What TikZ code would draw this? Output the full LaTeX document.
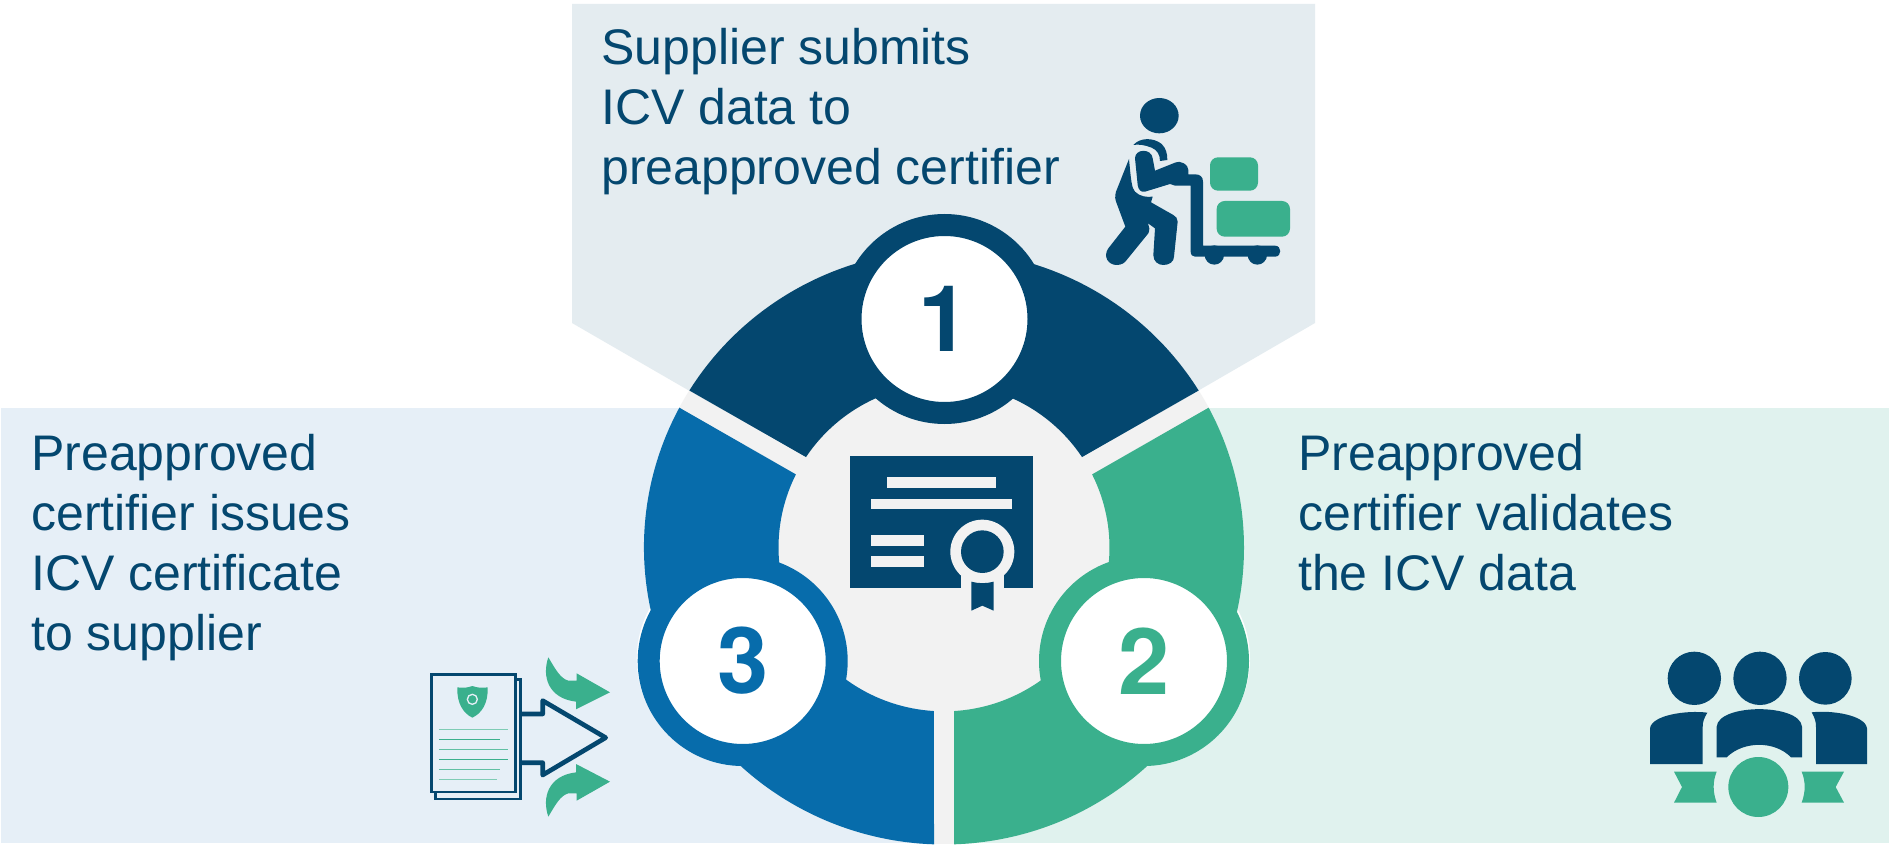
\documentclass[tikz,border=0pt]{standalone}
\usepackage{fontspec}
\setmainfont{Liberation Sans}
\newfontfamily\digitfont{TeX Gyre Heros}
\usetikzlibrary{positioning}
\definecolor{navy}{HTML}{04476F}
\definecolor{bluec}{HTML}{076CAB}
\definecolor{greenc}{HTML}{3AB08D}
\definecolor{grayc}{HTML}{F2F2F2}
\definecolor{paneltop}{HTML}{E4ECF0}
\definecolor{panelleft}{HTML}{E6EFF7}
\definecolor{panelright}{HTML}{E0F2EE}
\begin{document}
\begin{tikzpicture}[
    x=0.75pt,y=-0.75pt,
    caption/.style={anchor=north west,align=left,inner sep=0pt,text=navy,font=\fontsize{37.5}{45}\selectfont},
    stepnode/.style={circle,fill=white,line width=16.5pt,minimum size=141pt,inner sep=0pt,outer sep=0pt,font=\digitfont\fontsize{69}{69}\bfseries\selectfont},
    icon/.style={shift={#1},scale=1/3}]
    \clip (0,0) rectangle (1889,845);
    \fill[white] (0,0) rectangle (1889,845);

    \fill[paneltop] (572,4) -- (1315,4) -- (1315,323) -- (944,538) -- (572,323) -- cycle;
    \fill[panelleft] (1,408) rectangle (944,843);
    \fill[panelright] (944,408) rectangle (1889,843);
    \fill[white] (1145,659) circle (105);
    \fill[white] (741.7,659) circle (105);

    \begin{scope}
    \clip (0,0) rectangle (1889,843);
    \fill[grayc] (944,547.5) ellipse (300 and 297);
    \end{scope}
    \begin{scope}[shift={(944,547.5)},yscale=-0.99]
    \fill[navy] (31.91:300) arc[start angle=31.91,end angle=148.09,radius=300] -- (146.5:165.5) arc[start angle=146.5,end angle=33.5,radius=165.5] -- cycle;
    \fill[bluec] (151.91:300) arc[start angle=151.91,end angle=268.09,radius=300] -- (266.5:165.5) arc[start angle=266.5,end angle=153.5,radius=165.5] -- cycle;
    \fill[greenc] (271.91:300) arc[start angle=271.91,end angle=388.09,radius=300] -- (386.5:165.5) arc[start angle=386.5,end angle=273.5,radius=165.5] -- cycle;
    \end{scope}

    \node[stepnode,draw=navy,text=navy] (N1) at (944.5,319) {1};
    \node[stepnode,draw=greenc,text=greenc] (N2) at (1144,661) {2};
    \node[stepnode,draw=bluec,text=bluec] (N3) at (742.7,661) {3};

    \node[caption] (T1) at (601,28.5) {Supplier submits\\ICV data to\\preapproved certifier};
    \node[caption] (T2) at (1298,433.5) {Preapproved\\certifier validates\\the ICV data};
    \node[caption] (T3) at (31,433.5) {Preapproved\\certifier issues\\ICV certificate\\to supplier};

    \begin{scope}[icon={(830,440)}]
    \fill[navy] (60,48) rectangle (609,445);
    \fill[grayc] (172,112) rectangle (497,144);
    \fill[grayc] (124,176) rectangle (545,208);
    \fill[grayc] (124,285) rectangle (281,317);
    \fill[grayc] (124,349) rectangle (281,381);
    \fill[grayc] (392,380) rectangle (523,446);
    \fill[grayc] (457,335) circle (96);
    \fill[navy] (457,335) circle (64);
    \fill[navy] (424,425) .. controls (445,431) and (470,431) .. (491,425) -- (491,512) -- (457,497) -- (424,512) -- cycle;
    \end{scope}

    \begin{scope}[icon={(1080,80)}]
    \fill[navy] (238,107) ellipse (58 and 53);
    \fill[navy] (147,237) -- (108,335) .. controls (104,350) and (105,358) .. (110,370) -- (136,440) -- (85,505) .. controls (68,530) and (85,555) .. (110,555) .. controls (125,555) and (135,548) .. (140,540) -- (205,460) .. controls (210,450) and (208,440) .. (204,430) -- (225,445) -- (220,525) .. controls (220,545) and (235,555) .. (250,555) .. controls (268,555) and (282,545) .. (282,530) -- (293,425) .. controls (293,415) and (288,410) .. (280,405) -- (213,367) -- (218,350) .. controls (200,352) and (180,350) .. (165,335) .. controls (155,325) and (153,300) .. cycle;
    \fill[navy] (165,235) .. controls (165,205) and (215,205) .. (218,235) -- (225,272) -- (285,248) .. controls (305,240) and (325,255) .. (325,270) -- (325,283) -- (345,283) .. controls (360,283) and (369,290) .. (369,305) -- (369,497) -- (585,497) .. controls (606,497) and (606,530) .. (585,530) -- (345,530) .. controls (338,530) and (332,525) .. (332,515) -- (332,317) -- (285,317) .. controls (278,317) and (275,313) .. (270,312) -- (195,335) .. controls (182,338) and (175,328) .. (173,315) -- cycle;
    \fill[navy] (403,525) circle (29);
    \fill[navy] (532,525) circle (29);
    \fill[navy] (160,195) .. controls (180,172) and (220,172) .. (245,192) .. controls (258,205) and (262,220) .. (262,240) -- (240,243) .. controls (240,225) and (232,210) .. (215,203) .. controls (195,195) and (175,192) .. cycle;
    \fill[greenc,rounded corners=6pt] (390,232) rectangle (534,332);
    \fill[greenc,rounded corners=6pt] (410,363) rectangle (630,470);
    \end{scope}

    \begin{scope}[icon={(410,640)}]
    \draw[navy,line width=2pt] (320,118) -- (332,118) -- (332,477) -- (77,477) -- (77,460);
    \draw[navy,line width=2pt] (64,103) rectangle (316,456);
    \fill[greenc] (142,142) .. controls (165,145) and (175,142) .. (187,138) .. controls (200,142) and (210,145) .. (233,142) .. controls (235,190) and (215,220) .. (187,233) .. controls (160,220) and (140,190) .. cycle;
    \draw[panelleft,line width=1pt] (187,178) circle (15);
    \draw[greenc!65,line width=0.8pt] (87,268) -- (294,268);
    \draw[greenc,line width=0.8pt] (87,298) -- (270,298);
    \draw[greenc!80,line width=0.8pt] (87,328) -- (294,328);
    \draw[greenc,line width=0.8pt] (87,358) -- (294,358);
    \draw[greenc!80,line width=0.8pt] (87,388) -- (270,388);
    \draw[greenc!65,line width=0.8pt] (87,418) -- (261,418);
    \draw[navy,line width=3.5pt,line join=round] (335,222) -- (398,222) -- (398,182) -- (587,293) -- (398,405) -- (398,368) -- (335,368);
    \fill[greenc] (415,52) .. controls (395,110) and (415,175) .. (498,185) -- (498,208) -- (600,157) -- (500,100) -- (500,122) -- (475,122) .. controls (450,115) and (435,85) .. cycle;
    \fill[greenc] (415,530) .. controls (395,472) and (415,407) .. (498,397) -- (498,372) -- (600,425) -- (500,482) -- (500,460) -- (475,460) .. controls (450,467) and (435,497) .. cycle;
    \end{scope}

    \begin{scope}[icon={(1630,640)}]
    \fill[navy] (193,115) circle (80);
    \fill[navy] (390,115) circle (80);
    \fill[navy] (586,115) circle (79);
    \fill[navy] (60,372) -- (60,265) .. controls (65,225) and (170,210) .. (232,218) .. controls (222,235) and (218,245) .. (218,262) -- (218,372) -- cycle;
    \fill[navy] (711,372) -- (711,265) .. controls (706,225) and (605,210) .. (545,217) .. controls (555,235) and (558,245) .. (558,262) -- (558,372) -- cycle;
    \fill[navy] (260,352) -- (260,260) .. controls (265,190) and (510,190) .. (516,260) -- (516,352) -- (483,352) .. controls (435,302) and (340,302) .. (290,352) -- cycle;
    \fill[greenc] (385,441) circle (90);
    \fill[greenc] (132,395) -- (260,395) .. controls (248,425) and (248,455) .. (260,488) -- (132,488) -- (156,441) -- cycle;
    \fill[greenc] (642,395) -- (515,395) .. controls (527,425) and (527,455) .. (515,488) -- (642,488) -- (617,441) -- cycle;
    \end{scope}
\end{tikzpicture}
\end{document}
